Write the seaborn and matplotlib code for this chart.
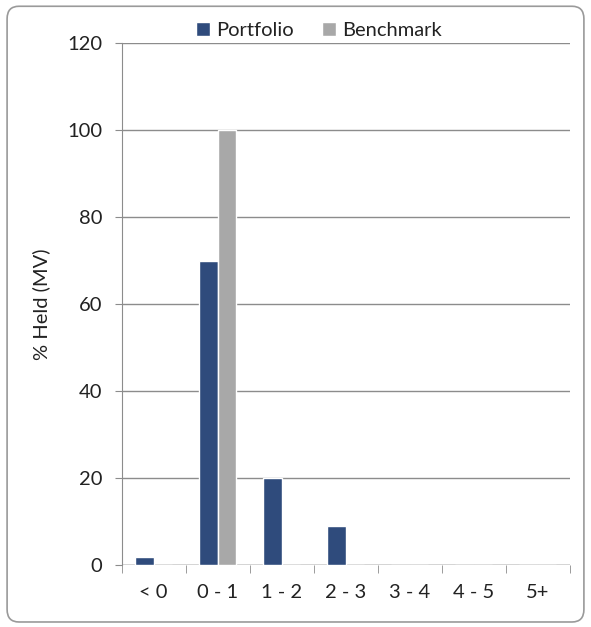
import matplotlib
matplotlib.use("Agg")
import matplotlib.pyplot as plt
import seaborn as sns
import pandas as pd
import numpy as np
from matplotlib.patches import FancyBboxPatch

categories = ["< 0", "0 - 1", "1 - 2", "2 - 3", "3 - 4", "4 - 5", "5+"]
portfolio = [1.8, 70, 20, 9, 0, 0, 0]
benchmark = [0, 100, 0, 0, 0, 0, 0]
series = ["Portfolio", "Benchmark"]
colors = ["#2F4B7C", "#A8A8A8"]
yticks = [0, 20, 40, 60, 80, 100, 120]

df = pd.DataFrame({
    "cat": categories * 2,
    "val": portfolio + benchmark,
    "series": [series[0]] * len(categories) + [series[1]] * len(categories),
})

sns.set_style("white")
plt.rcParams["font.family"] = ["Lato", "DejaVu Sans"]
plt.rcParams["text.color"] = "#222222"
plt.rcParams["xtick.labelcolor"] = "#222222"
plt.rcParams["ytick.labelcolor"] = "#222222"
plt.rcParams["axes.labelcolor"] = "#222222"

fs = 14.5

fig = plt.figure(figsize=(5.91, 6.27), dpi=100)
fig.patches.append(FancyBboxPatch((0.012, 0.008), 0.976, 0.982, boxstyle="round,pad=0,rounding_size=0.02",
                                  transform=fig.transFigure, facecolor="none", edgecolor="#9a9a9a",
                                  linewidth=1.2, zorder=-1))
ax = fig.add_axes([0.206, 0.099, 0.758, 0.832])
ax.patch.set_alpha(0)
sns.barplot(data=df, x="cat", y="val", hue="series", palette=colors, width=0.58,
            ax=ax, saturation=1, order=categories, hue_order=series, legend=True)

ax.set_ylim(0, 120)
ax.set_xlim(-0.5, len(categories) - 0.5)
ax.set_yticks(yticks)
ax.yaxis.grid(True, color="#8c8c8c", linewidth=1)
ax.set_axisbelow(True)
for s in ["top", "right", "bottom"]:
    ax.spines[s].set_visible(False)
ax.spines["left"].set_color("#8c8c8c")
ax.axhline(0, color="#8c8c8c", linewidth=1, zorder=0.5)
ax.tick_params(axis="y", length=5, color="#8c8c8c", labelsize=fs, pad=9, left=True)
ax.set_xticks(np.arange(len(categories)))
ax.set_xticklabels(categories)
ax.tick_params(axis="x", which="major", length=0, labelsize=fs, pad=14)
ax.set_xticks(np.arange(-0.5, len(categories)), minor=True)
ax.tick_params(axis="x", which="minor", length=6, color="#8c8c8c", bottom=True)
ax.set_xlabel("")
ax.set_ylabel("% Held (MV)", fontsize=fs, labelpad=12)

leg = ax.legend(loc="center", bbox_to_anchor=(0.44, 1.025), ncol=2, frameon=False, fontsize=fs,
                handlelength=0.7, handleheight=0.7, handletextpad=0.3, columnspacing=1.4)

fig.savefig("out.png", dpi=100)
